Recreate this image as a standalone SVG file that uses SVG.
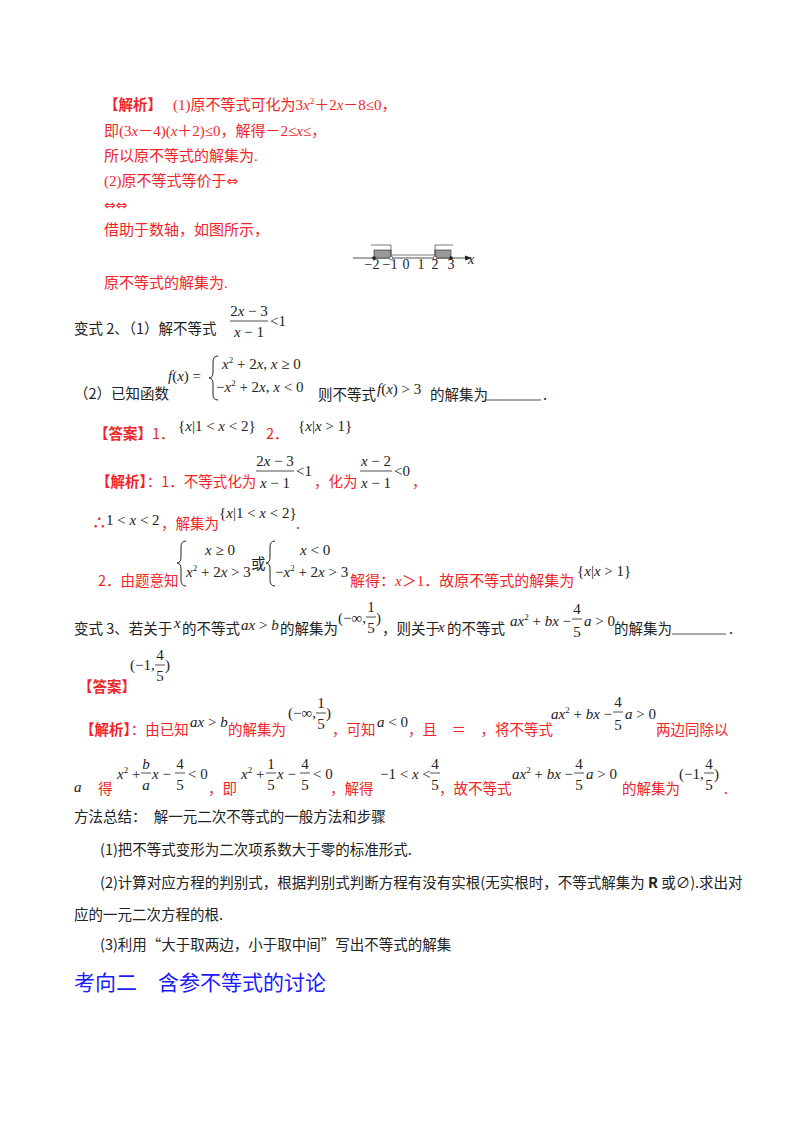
<svg xmlns="http://www.w3.org/2000/svg" width="800" height="1132" viewBox="0 0 800 1132">
<style>
text{font-family:"Liberation Serif","Noto Sans CJK SC",serif;font-size:14px}
.r{fill:#f0252a;font-family:"Noto Sans CJK SC",sans-serif;font-size:14.5px}
.k{fill:#222;font-family:"Noto Sans CJK SC",sans-serif;font-size:14.5px}
.m{fill:#222;font-family:"Liberation Serif",serif;font-size:15px}
.rs{fill:#f0252a;font-family:"Liberation Serif","Noto Sans CJK SC",serif;font-size:15px}
.ar{font-family:"DejaVu Sans",sans-serif;font-size:14px}
.c{text-anchor:middle}
.fb{stroke:#222;stroke-width:0.8}
.br{fill:none;stroke:#222;stroke-width:1}
.n{fill:#222;font-family:"Noto Sans CJK SC",sans-serif;font-size:14.5px}
.h{fill:#1a1aff;font-family:"Noto Sans CJK SC",sans-serif;font-size:21px}
</style>
<g id="sec1">
<text class="r" x="104" y="110" font-weight="bold">【解析】</text>
<text class="rs" x="173" y="110">(1)原不等式可化为3<tspan font-style="italic">x</tspan><tspan font-size="9" dy="-6">2</tspan><tspan dy="6">＋2</tspan><tspan font-style="italic">x</tspan>－8≤0，</text>
<text class="rs" x="104" y="136">即(3<tspan font-style="italic">x</tspan>－4)(<tspan font-style="italic">x</tspan>＋2)≤0，解得－2≤<tspan font-style="italic">x</tspan>≤，</text>
<text class="rs" x="104" y="161">所以原不等式的解集为.</text>
<text class="rs" x="104" y="186">(2)原不等式等价于<tspan class="ar">⇔</tspan></text>
<text class="rs ar" x="104" y="210">⇔⇔</text>
<text class="rs" x="104" y="235">借助于数轴，如图所示，</text>
<text class="rs" x="104" y="288">原不等式的解集为.</text>
</g>
<g id="numberline">
<line x1="353" y1="258" x2="468" y2="258" stroke="#222" stroke-width="0.8"/>
<polygon points="472,258 465,255.5 465,260.5" fill="#222"/>
<rect x="374" y="250" width="17" height="8" fill="#999" stroke="#222" stroke-width="0.6"/>
<rect x="435" y="250" width="16" height="8" fill="#999" stroke="#222" stroke-width="0.6"/>
<polyline points="371,245 391,245 391,255" fill="none" stroke="#222" stroke-width="0.6"/>
<polyline points="435,255 435,245 453,245" fill="none" stroke="#222" stroke-width="0.6"/>
<line x1="391" y1="255" x2="435" y2="255" stroke="#222" stroke-width="0.6"/>
<circle cx="374" cy="258" r="1.8" fill="#222"/>
<circle cx="391" cy="258" r="1.8" fill="#fff" stroke="#222" stroke-width="0.6"/>
<circle cx="435" cy="258" r="1.8" fill="#fff" stroke="#222" stroke-width="0.6"/>
<circle cx="451" cy="258" r="1.8" fill="#222"/>
<g fill="#222" text-anchor="middle">
<text x="372" y="269" font-size="10">−2</text><text x="390" y="269" font-size="10">−1</text><text x="406" y="269" font-size="10">0</text><text x="421" y="269" font-size="10">1</text><text x="435" y="269" font-size="10">2</text><text x="451" y="269" font-size="10">3</text><text x="471" y="264" font-size="9" font-style="italic">x</text>
</g>
</g>
<g id="bianshi2">
<text class="k" x="74" y="334">变式 2、（1）解不等式</text>
<text class="m c" x="249" y="316">2<tspan font-style="italic">x</tspan> − 3</text>
<line class="fb" x1="230" y1="321" x2="268" y2="321"/>
<text class="m c" x="249" y="337"><tspan font-style="italic">x</tspan> − 1</text>
<text class="m" x="270" y="326">&lt;1</text>
<text class="k" x="74" y="399">（2）已知函数</text>
<text class="m" x="168" y="381"><tspan font-style="italic">f</tspan>(<tspan font-style="italic">x</tspan>) =</text>
<path class="br" d="M218,356 Q213,356 213,362 L213,372 Q213,378 209,378 Q213,378 213,384 L213,394 Q213,400 218,400"/>
<text class="m" x="222" y="369"><tspan font-style="italic">x</tspan><tspan font-size="9" dy="-6">2</tspan><tspan dy="6"> + 2</tspan><tspan font-style="italic">x</tspan>, <tspan font-style="italic">x</tspan> ≥ 0</text>
<text class="m" x="216" y="392">−<tspan font-style="italic">x</tspan><tspan font-size="9" dy="-6">2</tspan><tspan dy="6"> + 2</tspan><tspan font-style="italic">x</tspan>, <tspan font-style="italic">x</tspan> &lt; 0</text>
<text class="k" x="318" y="400">则不等式</text>
<text class="m" x="377" y="394"><tspan font-style="italic">f</tspan>(<tspan font-style="italic">x</tspan>) &gt; 3</text>
<text class="k" x="430" y="400">的解集为</text>
<line x1="485" y1="400" x2="541" y2="400" stroke="#222" stroke-width="0.8"/>
<text class="k" x="543" y="400">.</text>
</g>
<g id="answer2">
<text class="r" x="94" y="439" font-weight="bold">【答案】<tspan font-weight="normal">1．</tspan></text>
<text class="m" x="178" y="431">{<tspan font-style="italic">x</tspan>|1 &lt; <tspan font-style="italic">x</tspan> &lt; 2}</text>
<text class="r" x="266" y="439">2．</text>
<text class="m" x="298" y="431">{<tspan font-style="italic">x</tspan>|<tspan font-style="italic">x</tspan> &gt; 1}</text>
</g>
<g id="jiexi2">
<text class="r" x="96" y="487"><tspan font-weight="bold">【解析】</tspan>：1．不等式化为</text>
<text class="m c" x="275" y="466">2<tspan font-style="italic">x</tspan> − 3</text>
<line class="fb" x1="256" y1="471" x2="294" y2="471"/>
<text class="m c" x="275" y="488"><tspan font-style="italic">x</tspan> − 1</text>
<text class="m" x="296" y="476">&lt;1</text>
<text class="r" x="314" y="487">，化为</text>
<text class="m c" x="376" y="466"><tspan font-style="italic">x</tspan> − 2</text>
<line class="fb" x1="360" y1="471" x2="392" y2="471"/>
<text class="m c" x="376" y="488"><tspan font-style="italic">x</tspan> − 1</text>
<text class="m" x="394" y="476">&lt;0</text>
<text class="r" x="412" y="487">，</text>
<text class="r" x="92" y="528" font-weight="bold">∴</text>
<text class="m" x="106" y="525">1 &lt; <tspan font-style="italic">x</tspan> &lt; 2</text>
<text class="r" x="161" y="529">，解集为</text>
<text class="m" x="219" y="518">{<tspan font-style="italic">x</tspan>|1 &lt; <tspan font-style="italic">x</tspan> &lt; 2}</text>
<text class="r" x="296" y="529">.</text>
<text class="r" x="98" y="586">2．由题意知</text>
<path class="br" d="M186,541 Q181,541 181,547 L181,557 Q181,563 177,563 Q181,563 181,569 L181,580 Q181,586 186,586"/>
<text class="m" x="205" y="555"><tspan font-style="italic">x</tspan> ≥ 0</text>
<text class="m" x="186" y="577"><tspan font-style="italic">x</tspan><tspan font-size="9" dy="-6">2</tspan><tspan dy="6"> + 2</tspan><tspan font-style="italic">x</tspan> &gt; 3</text>
<text class="k" x="251" y="569">或</text>
<path class="br" d="M275,541 Q270,541 270,547 L270,557 Q270,563 266,563 Q270,563 270,569 L270,580 Q270,586 275,586"/>
<text class="m" x="300" y="555"><tspan font-style="italic">x</tspan> &lt; 0</text>
<text class="m" x="275" y="577">−<tspan font-style="italic">x</tspan><tspan font-size="9" dy="-6">2</tspan><tspan dy="6"> + 2</tspan><tspan font-style="italic">x</tspan> &gt; 3</text>
<text class="rs" x="350" y="586" font-size="14.6">解得：<tspan font-style="italic">x</tspan>＞1．故原不等式的解集为</text>
<text class="m" x="577" y="576">{<tspan font-style="italic">x</tspan>|<tspan font-style="italic">x</tspan> &gt; 1}</text>
</g>
<g id="bianshi3">
<text class="k" x="74" y="634" font-size="14">变式 3、若关于</text>
<text class="m" x="174" y="628" font-style="italic">x</text>
<text class="k" x="182" y="634">的不等式</text>
<text class="m" x="241" y="630"><tspan font-style="italic">ax</tspan> &gt; <tspan font-style="italic">b</tspan></text>
<text class="k" x="280" y="634">的解集为</text>
<text class="m" x="338" y="623">(−∞,</text>
<text class="m c" x="371" y="612">1</text>
<line class="fb" x1="366" y1="617" x2="376" y2="617"/>
<text class="m c" x="371" y="633">5</text>
<text class="m" x="376" y="623">)</text>
<text class="k" x="382" y="634">，则关于</text>
<text class="m" x="438" y="632" font-style="italic">x</text>
<text class="k" x="447" y="634">的不等式</text>
<text class="m" x="510" y="626"><tspan font-style="italic">ax</tspan><tspan font-size="9" dy="-6">2</tspan><tspan dy="6"> + </tspan><tspan font-style="italic">bx</tspan> −</text>
<text class="m c" x="577" y="614">4</text>
<line class="fb" x1="572" y1="619" x2="582" y2="619"/>
<text class="m c" x="577" y="637">5</text>
<text class="m" x="584" y="626"><tspan font-style="italic">a</tspan> &gt; 0</text>
<text class="k" x="614" y="634">的解集为</text>
<line x1="672" y1="634" x2="726" y2="634" stroke="#222" stroke-width="0.8"/>
<text class="k" x="729" y="634">.</text>
</g>
<g id="answer3">
<text class="r" x="78" y="692" font-weight="bold">【答案】</text>
<text class="m" x="130" y="670">(−1,</text>
<text class="m c" x="160" y="660">4</text>
<line class="fb" x1="155" y1="665" x2="165" y2="665"/>
<text class="m c" x="160" y="681">5</text>
<text class="m" x="165" y="670">)</text>
</g>
<g id="jiexi3">
<text class="r" x="80" y="735"><tspan font-weight="bold">【解析】</tspan>：由已知</text>
<text class="m" x="190" y="727"><tspan font-style="italic">ax</tspan> &gt; <tspan font-style="italic">b</tspan></text>
<text class="r" x="228" y="735">的解集为</text>
<text class="m" x="288" y="718">(−∞,</text>
<text class="m c" x="321" y="708">1</text>
<line class="fb" x1="316" y1="713" x2="326" y2="713"/>
<text class="m c" x="321" y="729">5</text>
<text class="m" x="326" y="718">)</text>
<text class="r" x="332" y="735">，可知</text>
<text class="m" x="377" y="727"><tspan font-style="italic">a</tspan> &lt; 0</text>
<text class="r" x="408" y="735">，且　＝　，将不等式</text>
<text class="m" x="551" y="719"><tspan font-style="italic">ax</tspan><tspan font-size="9" dy="-6">2</tspan><tspan dy="6"> + </tspan><tspan font-style="italic">bx</tspan> −</text>
<text class="m c" x="618" y="707">4</text>
<line class="fb" x1="613" y1="712" x2="623" y2="712"/>
<text class="m c" x="618" y="730">5</text>
<text class="m" x="625" y="719"><tspan font-style="italic">a</tspan> &gt; 0</text>
<text class="r" x="656" y="735">两边同除以</text>
<text class="m" x="74" y="792" font-style="italic">a</text>
<text class="r" x="98" y="794">得</text>
<text class="m" x="117" y="779"><tspan font-style="italic">x</tspan><tspan font-size="9" dy="-6">2</tspan><tspan dy="6"> +</tspan></text>
<text class="m c" x="146" y="769" font-style="italic">b</text>
<line class="fb" x1="141" y1="773" x2="151" y2="773"/>
<text class="m c" x="146" y="790" font-style="italic">a</text>
<text class="m" x="152" y="779"><tspan font-style="italic">x</tspan> −</text>
<text class="m c" x="180" y="769">4</text>
<line class="fb" x1="175" y1="773" x2="185" y2="773"/>
<text class="m c" x="180" y="790">5</text>
<text class="m" x="188" y="779">&lt; 0</text>
<text class="r" x="208" y="794">，即</text>
<text class="m" x="241" y="779"><tspan font-style="italic">x</tspan><tspan font-size="9" dy="-6">2</tspan><tspan dy="6"> +</tspan></text>
<text class="m c" x="271" y="769">1</text>
<line class="fb" x1="266" y1="773" x2="276" y2="773"/>
<text class="m c" x="271" y="790">5</text>
<text class="m" x="277" y="779"><tspan font-style="italic">x</tspan> −</text>
<text class="m c" x="305" y="769">4</text>
<line class="fb" x1="300" y1="773" x2="310" y2="773"/>
<text class="m c" x="305" y="790">5</text>
<text class="m" x="313" y="779">&lt; 0</text>
<text class="r" x="330" y="794">，解得</text>
<text class="m" x="380" y="779">−1 &lt; <tspan font-style="italic">x</tspan> &lt;</text>
<text class="m c" x="435" y="769">4</text>
<line class="fb" x1="430" y1="773" x2="440" y2="773"/>
<text class="m c" x="435" y="790">5</text>
<text class="r" x="439" y="794">，故不等式</text>
<text class="m" x="512" y="779"><tspan font-style="italic">ax</tspan><tspan font-size="9" dy="-6">2</tspan><tspan dy="6"> + </tspan><tspan font-style="italic">bx</tspan> −</text>
<text class="m c" x="579" y="769">4</text>
<line class="fb" x1="574" y1="773" x2="584" y2="773"/>
<text class="m c" x="579" y="790">5</text>
<text class="m" x="586" y="779"><tspan font-style="italic">a</tspan> &gt; 0</text>
<text class="r" x="622" y="794">的解集为</text>
<text class="m" x="679" y="779">(−1,</text>
<text class="m c" x="709" y="769">4</text>
<line class="fb" x1="704" y1="773" x2="714" y2="773"/>
<text class="m c" x="709" y="790">5</text>
<text class="m" x="714" y="779">)</text>
<text class="r" x="724" y="794">.</text>
</g>
<g id="summary">
<text class="k" x="74" y="822">方法总结：　解一元二次不等式的一般方法和步骤</text>
<text class="n" x="100" y="855">(1)把不等式变形为二次项系数大于零的标准形式.</text>
<text class="n" x="100" y="888">(2)计算对应方程的判别式，根据判别式判断方程有没有实根(无实根时，不等式解集为 <tspan font-weight="bold">R</tspan> 或∅).求出对</text>
<text class="n" x="74" y="920">应的一元二次方程的根.</text>
<text class="n" x="100" y="950">(3)利用“大于取两边，小于取中间”写出不等式的解集</text>
<text class="h" x="74" y="990">考向二　含参不等式的讨论</text>
</g>
<g id="connectors"></g>
</svg>
